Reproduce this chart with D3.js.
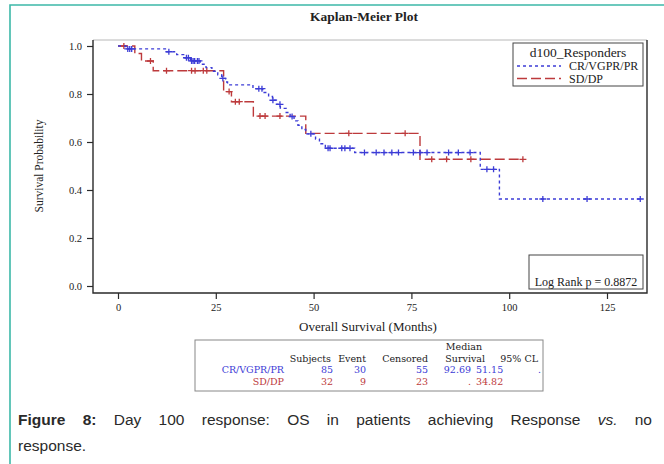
<!DOCTYPE html>
<html><head><meta charset="utf-8">
<script src="https://cdn.jsdelivr.net/npm/d3@7"></script>
<style>
html,body{margin:0;padding:0;background:#fff;}
#wrap{position:relative;width:664px;height:464px;overflow:hidden;background:#fff;}
svg{position:absolute;left:0;top:0;}
.cap{position:absolute;left:18px;width:634px;font-family:"Liberation Sans",Arial,sans-serif;font-size:15.5px;line-height:20px;color:#2a2a2a;}
.l1{text-align:justify;text-align-last:justify;}
</style></head><body><div id="wrap"></div>
<script>
// ---- data ----
const xTicks = [0, 25, 50, 75, 100, 125];
const yTicks = [0.0, 0.2, 0.4, 0.6, 0.8, 1.0];

const seriesNames = ["CR/VGPR/PR", "SD/DP"];

// CR/VGPR/PR step curve (event times, survival after the step)
const blueTimes = [0, 2, 12.5, 15, 17, 18.5, 21, 22.5, 24, 25.5, 26.5, 27.5, 28, 34.5, 37, 38.5, 39.5, 40.5, 41.5, 43, 44, 45, 46, 47, 48, 50.5, 51.5, 53, 60.5, 92.6, 97.5];
const blueSurv  = [1.0, 0.988, 0.976, 0.964, 0.951, 0.938, 0.924, 0.910, 0.895, 0.880, 0.865, 0.850, 0.838, 0.822, 0.806, 0.790, 0.774, 0.757, 0.740, 0.723, 0.706, 0.688, 0.670, 0.652, 0.634, 0.612, 0.593, 0.574, 0.556, 0.486, 0.3625];
const blueEnd = 133.5;
const blueCensor = [2.5, 3, 3.5, 13, 17.5, 18, 18.8, 19.2, 19.6, 20.3, 20.7, 26.8, 36, 36.8, 39.6, 41.4, 44.5, 49.3, 53.7, 54.2, 57.2, 58, 59.3, 63, 66, 68, 70, 71.7, 75.5, 77.2, 79, 84.5, 87, 90, 94.3, 96, 108.6, 119.9, 133.5];

// SD/DP step curve
const redTimes = [0, 4.3, 6, 9, 27, 29, 34.6, 48, 77.2];
const redSurv  = [1.0, 0.969, 0.9375, 0.897, 0.81, 0.768, 0.708, 0.636, 0.528];
const redEnd = 103.5;
const redCensor = [1.5, 8.3, 12.4, 18.8, 19.7, 21.8, 22.7, 28.4, 30, 31, 36.3, 37.6, 41.4, 59, 73.4, 80.2, 84, 90.2, 103.5];

const logRankText = "Log Rank p = 0.8872";

// summary table
const tableHeader = ["Subjects", "Event", "Censored", "Survival", "95% CL"];
const tableRows = [
  {name: "CR/VGPR/PR", subjects: "85", event: "30", censored: "55", median: "92.69", lcl: "51.15", ucl: "."},
  {name: "SD/DP",      subjects: "32", event: "9",  censored: "23", median: ".",     lcl: "34.82", ucl: ""}
];

// ---- drawing ----
const W = 664, H = 464;
const wrap = d3.select("#wrap");
const svg = wrap.append("svg").attr("width", W).attr("height", H);
const serif = "'Liberation Serif','Times New Roman',serif";
const wideSerif = "'DejaVu Serif','Liberation Serif',serif";
const ink = "#222";
const blue = "#3c3cd6", red = "#bd3a3c";

// teal figure border
svg.append("path").attr("d", "M10,464 V5 H664").attr("fill", "none")
  .attr("stroke", "#3cb8a8").attr("stroke-width", 1.6);

const frame = {l: 93, r: 647, t: 40, b: 293};
const x = d3.scaleLinear().domain([0, 125]).range([118, 607]);
const y = d3.scaleLinear().domain([0, 1]).range([286, 46]);

// title
svg.append("text").attr("x", 364).attr("y", 21).attr("text-anchor", "middle")
  .attr("font-family", serif).attr("font-weight", "bold").attr("font-size", 13.5)
  .attr("fill", ink).text("Kaplan-Meier Plot");

// frame
svg.append("line").attr("x1", frame.l).attr("x2", frame.r).attr("y1", frame.t).attr("y2", frame.t)
  .attr("stroke", "#b8b8b8").attr("stroke-width", 1);
svg.append("path").attr("d", `M${frame.l},${frame.t} V${frame.b} H${frame.r} V${frame.t}`)
  .attr("fill", "none").attr("stroke", "#2a2a2a").attr("stroke-width", 1.4);

// axes
const xAxis = svg.append("g").attr("transform", `translate(0,${frame.b})`)
  .call(d3.axisBottom(x).tickValues(xTicks).tickSize(6).tickPadding(5).tickFormat(d3.format("d")));
const yAxis = svg.append("g").attr("transform", `translate(${frame.l},0)`)
  .call(d3.axisLeft(y).tickValues(yTicks).tickSize(6).tickPadding(5).tickFormat(d3.format(".1f")));
[xAxis, yAxis].forEach(g => {
  g.select(".domain").remove();
  g.selectAll("line").attr("stroke", "#2a2a2a").attr("stroke-width", 1.2);
  g.selectAll("text").attr("font-family", serif).attr("font-size", 10.5).attr("fill", ink);
});

// axis labels
svg.append("text").attr("x", 368).attr("y", 331).attr("text-anchor", "middle")
  .attr("font-family", serif).attr("font-size", 13).attr("fill", ink).text("Overall Survival (Months)");
svg.append("text").attr("transform", "translate(43,166) rotate(-90)").attr("text-anchor", "middle")
  .attr("font-family", serif).attr("font-size", 11.5).attr("fill", ink).text("Survival Probability");

// curves
function stepPoints(times, surv, end) {
  const pts = times.map((t, i) => [t, surv[i]]);
  pts.push([end, surv[surv.length - 1]]);
  return pts;
}
function survAt(times, surv, t) {
  let s = surv[0];
  for (let i = 0; i < times.length; i++) if (times[i] <= t) s = surv[i];
  return s;
}
const line = d3.line().x(d => x(d[0])).y(d => y(d[1])).curve(d3.curveStepAfter);

const series = [
  {times: blueTimes, surv: blueSurv, end: blueEnd, cens: blueCensor, color: blue, dash: "3,3"},
  {times: redTimes, surv: redSurv, end: redEnd, cens: redCensor, color: red, dash: "10,4"}
];
// draw red first, blue on top
[series[1], series[0]].forEach(s => {
  svg.append("path").datum(stepPoints(s.times, s.surv, s.end))
    .attr("d", line).attr("fill", "none").attr("stroke", s.color)
    .attr("stroke-width", 1.4).attr("stroke-dasharray", s.dash);
  const g = svg.append("g");
  s.cens.forEach(t => {
    const cx = x(t), cy = y(survAt(s.times, s.surv, t));
    g.append("path").attr("d", `M${cx - 3.5},${cy} H${cx + 3.5} M${cx},${cy - 3} V${cy + 3}`)
      .attr("stroke", s.color).attr("stroke-width", 1.3).attr("fill", "none");
  });
});

// legend
const lg = svg.append("g");
lg.append("rect").attr("x", 513).attr("y", 43).attr("width", 130).attr("height", 43)
  .attr("fill", "#fff").attr("stroke", "#444").attr("stroke-width", 1);
lg.append("text").attr("x", 578).attr("y", 57).attr("text-anchor", "middle")
  .attr("font-family", serif).attr("font-size", 13.5).attr("fill", ink).text("d100_Responders");
series.forEach((s, i) => {
  const ly = 66 + i * 12.5;
  lg.append("line").attr("x1", 517).attr("x2", 561).attr("y1", ly).attr("y2", ly)
    .attr("stroke", s.color).attr("stroke-width", 1.3).attr("stroke-dasharray", s.dash);
  lg.append("text").attr("x", 569).attr("y", ly + 4).attr("font-family", serif)
    .attr("font-size", 12).attr("fill", ink).text(seriesNames[i]);
});

// log rank box
svg.append("rect").attr("x", 529).attr("y", 255).attr("width", 114).attr("height", 34)
  .attr("fill", "#fff").attr("stroke", "#444").attr("stroke-width", 1);
svg.append("text").attr("x", 586).attr("y", 286).attr("text-anchor", "middle")
  .attr("font-family", serif).attr("font-size", 12).attr("fill", ink).text(logRankText);

// table
const tg = svg.append("g").attr("font-family", wideSerif).attr("font-size", 9.5);
tg.append("rect").attr("x", 195).attr("y", 340).attr("width", 348).attr("height", 51)
  .attr("fill", "#fff").attr("stroke", "#888").attr("stroke-width", 1);
tg.append("text").attr("x", 464).attr("y", 350).attr("text-anchor", "middle").attr("fill", ink).text("Median");
const hdrX = [331, 366, 428, 485, 538];
tableHeader.forEach((h, i) => {
  tg.append("text").attr("x", hdrX[i]).attr("y", 361.5).attr("text-anchor", "end").attr("fill", ink).text(h);
});
const rowColors = [blue, red];
tableRows.forEach((r, i) => {
  const ry = 373 + i * 11.5;
  const c = rowColors[i];
  const put = (xx, txt, anchor) => tg.append("text").attr("x", xx).attr("y", ry)
    .attr("text-anchor", anchor).attr("fill", c).text(txt);
  put(284, r.name, "end");
  put(333, r.subjects, "end");
  put(366, r.event, "end");
  put(428, r.censored, "end");
  put(471, r.median, "end");
  put(476, r.lcl, "start");
  put(541, r.ucl, "end");
});

// caption
wrap.append("div").attr("class", "cap l1").style("top", "410px")
  .html('<b>Figure 8:</b> Day 100 response: OS in patients achieving Response <i>vs.</i> no');
wrap.append("div").attr("class", "cap").style("top", "436px").text("response.");
</script>
</body></html>
